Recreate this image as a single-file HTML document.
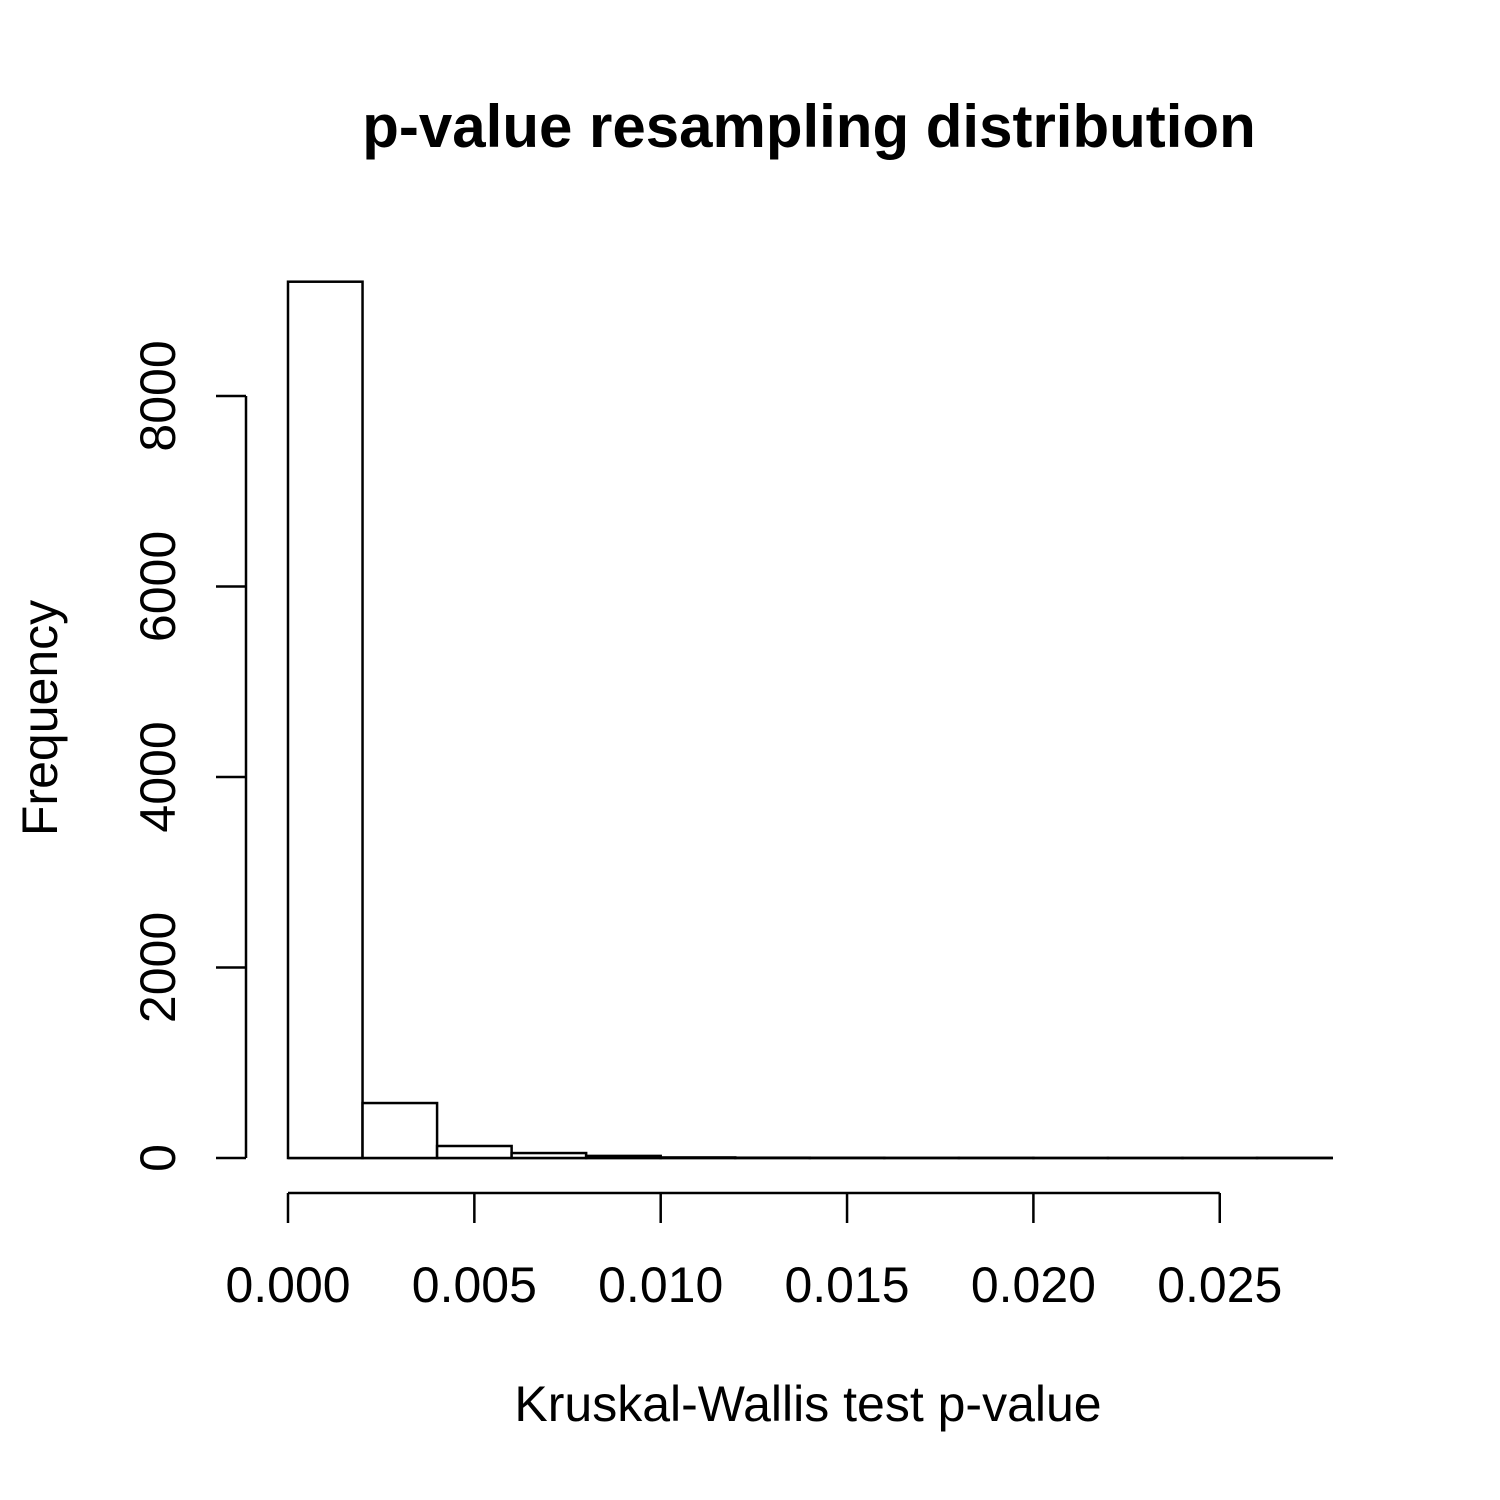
<!DOCTYPE html>
<html><head><meta charset="utf-8"><style>
html,body{margin:0;padding:0;background:#fff}
svg{display:block}
text{font-family:"Liberation Sans",Arial,sans-serif;fill:#000}
</style></head><body>
<svg id="chart" width="1500" height="1500">
<text x="809" y="147" font-size="60" font-weight="bold" text-anchor="middle">p-value resampling distribution</text>
<text x="808" y="1421" font-size="50" text-anchor="middle">Kruskal-Wallis test p-value</text>
<text transform="translate(57,718) rotate(-90)" font-size="50" text-anchor="middle">Frequency</text>
<line x1="288" x2="1333" y1="1158" y2="1158" stroke="#000" stroke-width="2.5"/>
<g id="bars"></g><g id="xaxis"></g><g id="yaxis"></g>
</svg>
<script>
const binEdges=[0,0.002,0.004,0.006,0.008,0.010,0.012,0.014,0.016,0.018,0.020,0.022,0.024,0.026,0.028];
const counts=[9200,577,126,52,22,6,3,2,1,1,0,0,0,1];
const xTicks=[0,0.005,0.010,0.015,0.020,0.025];
const xTickLabels=["0.000","0.005","0.010","0.015","0.020","0.025"];
const yTicks=[0,2000,4000,6000,8000];
const yTickLabels=["0","2000","4000","6000","8000"];
const NS="http://www.w3.org/2000/svg";
const X=v=>288+v*37270;
const Y=v=>1158-v*0.09525;
function mk(tag,attrs,parent){const e=document.createElementNS(NS,tag);for(const k in attrs)e.setAttribute(k,attrs[k]);parent.appendChild(e);return e;}
const bars=document.getElementById('bars');
counts.forEach((c,i)=>{
 const x0=X(binEdges[i]),x1=X(binEdges[i+1]);
 const r=mk('rect',{x:x0,y:Y(c),width:x1-x0,height:Math.max(Y(0)-Y(c),0.01),fill:'#fff',stroke:'#000','stroke-width':2.5},bars);
 
 
});
const xa=document.getElementById('xaxis');
const xl=mk('line',{x1:X(xTicks[0]),x2:X(xTicks[xTicks.length-1]),y1:1193,y2:1193,stroke:'#000','stroke-width':2.5},xa);


xTicks.forEach((t,i)=>{
 mk('line',{x1:X(t),x2:X(t),y1:1193,y2:1223,stroke:'#000','stroke-width':2.5},xa);
 const tx=mk('text',{x:X(t),y:1302,'font-size':50,'text-anchor':'middle'},xa);
 tx.textContent=xTickLabels[i];
 
 
});
const ya=document.getElementById('yaxis');
const yl=mk('line',{x1:246,x2:246,y1:Y(yTicks[0]),y2:Y(yTicks[yTicks.length-1]),stroke:'#000','stroke-width':2.5},ya);


yTicks.forEach((t,i)=>{
 mk('line',{x1:216,x2:246,y1:Y(t),y2:Y(t),stroke:'#000','stroke-width':2.5},ya);
 const tx=mk('text',{transform:`translate(175,${Y(t)}) rotate(-90)`,'font-size':50,'text-anchor':'middle'},ya);
 tx.textContent=yTickLabels[i];
 
 
});
</script>
</body></html>
